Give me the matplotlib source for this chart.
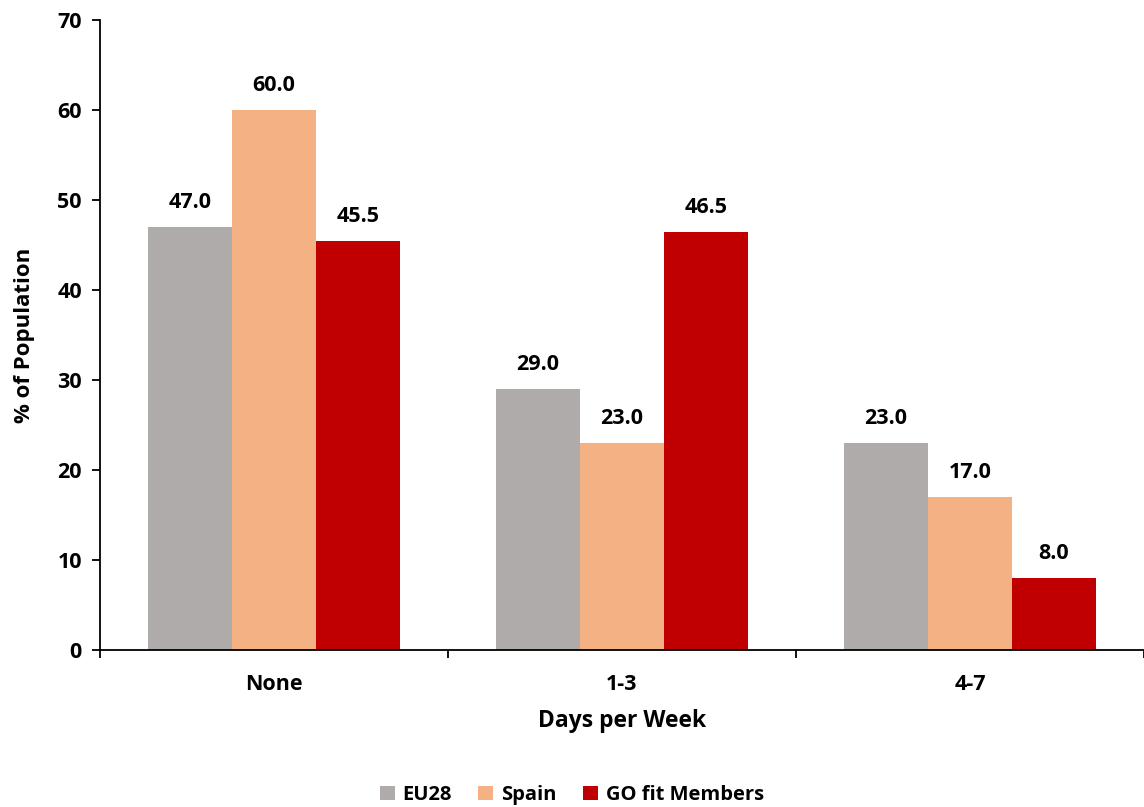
import numpy as np
import matplotlib.pyplot as plt
from matplotlib.ticker import FixedLocator

plt.rcParams['font.family'] = ['Open Sans', 'DejaVu Sans']
plt.rcParams['font.weight'] = 'bold'

categories = ["None", "1-3", "4-7"]
series = ["EU28", "Spain", "GO fit Members"]
eu28 = [47.0, 29.0, 23.0]
spain = [60.0, 23.0, 17.0]
gofit = [45.5, 46.5, 8.0]
colors = ["#AFABAB", "#F4B183", "#C00000"]

fig = plt.figure(figsize=(11.44, 8.07), dpi=100)
ax = fig.add_axes([0.0874, 0.1945, 0.9126, 0.7807])

x = np.arange(len(categories))
width = 0.241
for i, (name, vals, col) in enumerate(zip(series, [eu28, spain, gofit], colors)):
    pos = x + (i - 1) * width
    ax.bar(pos, vals, width, color=col, label=name)
    for xp, v in zip(pos, vals):
        ax.annotate(f"{v:.1f}", (xp, v), xytext=(0, 10), textcoords="offset points",
                    ha="center", va="bottom", fontsize=15.5, fontweight="bold")

ax.set_xlim(-0.5, 2.5)
ax.set_ylim(0, 70)
ax.set_yticks(range(0, 71, 10))
ax.set_xticks(x)
ax.set_xticklabels(categories)
ax.xaxis.set_minor_locator(FixedLocator([-0.5, 0.5, 1.5, 2.5]))
ax.tick_params(axis="x", which="major", length=0, pad=17, labelsize=15.5)
ax.tick_params(axis="x", which="minor", length=6, width=1.3, direction="out")
ax.tick_params(axis="y", length=6, width=1.3, direction="out", labelsize=15.5, pad=7)

for s in ["top", "right"]:
    ax.spines[s].set_visible(False)
ax.spines["left"].set_linewidth(1.3)
ax.spines["bottom"].set_linewidth(1.3)

ax.set_xlabel("Days per Week", fontsize=16.5, fontweight="bold", labelpad=10)
ax.set_ylabel("% of Population", fontsize=16, fontweight="bold", labelpad=16)

fig.legend(loc="lower center", bbox_to_anchor=(0.5, -0.02), ncol=3, frameon=False,
           fontsize=14.5, handlelength=0.75, handleheight=0.75, handletextpad=0.4,
           columnspacing=1.3)

fig.savefig("out.png", dpi=100)
